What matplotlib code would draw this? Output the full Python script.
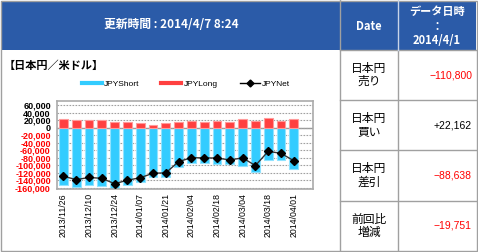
import matplotlib
matplotlib.use("Agg")
import matplotlib.pyplot as plt
from matplotlib.patches import Rectangle
from matplotlib.lines import Line2D
from matplotlib.ticker import FuncFormatter, MultipleLocator

plt.rcParams['font.family'] = ['Noto Sans CJK JP', 'DejaVu Sans']

dates = ["2013/11/26", "2013/12/03", "2013/12/10", "2013/12/17", "2013/12/24",
         "2013/12/31", "2014/01/07", "2014/01/14", "2014/01/21", "2014/01/28",
         "2014/02/04", "2014/02/11", "2014/02/18", "2014/02/25", "2014/03/04",
         "2014/03/11", "2014/03/18", "2014/03/25", "2014/04/01"]
jpy_long = [23200, 20500, 18700, 20500, 14100, 14100, 10700, 8000, 10700, 16000,
            17300, 13900, 17300, 13900, 22700, 17300, 24500, 17600, 22162]
jpy_short = [-152800, -159200, -152800, -156500, -164100, -152800, -145900, -132500,
             -132500, -105900, -95500, -95500, -98100, -98100, -102700, -117900,
             -86700, -86500, -110800]
jpy_net = [-129900, -139000, -133300, -135500, -150000, -140500, -134000, -122000,
           -121000, -91000, -80500, -81000, -81500, -86500, -81000, -101500,
           -63500, -68887, -88638]

header_text = "更新時間 : 2014/4/7 8:24"
pair_title = "【日本円／米ドル】"
row_labels = ["日本円\n売り", "日本円\n買い", "日本円\n差引", "前回比\n増減"]
row_values = ["\u2212110,800", "+22,162", "\u221288,638", "\u221219,751"]
row_colors = ["#ff0000", "#000000", "#ff0000", "#ff0000"]

W, H = 478, 252
BLUE = "#2b5ba8"
GRID = "#a0a0a0"


def fx(x):
    return x / W


def fy(y):
    return 1 - y / H


fig = plt.figure(figsize=(W / 100, H / 100), dpi=100)
fig.patch.set_facecolor("white")

# header bars
fig.add_artist(Rectangle((fx(1), fy(50)), fx(339), 49 / H, transform=fig.transFigure,
                         facecolor=BLUE, edgecolor="none"))
fig.add_artist(Rectangle((fx(340), fy(50)), fx(136), 49 / H, transform=fig.transFigure,
                         facecolor=BLUE, edgecolor="none"))
fig.text(fx(171), fy(25), header_text, color="white", fontsize=8.5, fontweight="bold",
         ha="center", va="center")
fig.text(fx(4), fy(65), pair_title, fontsize=8, fontweight="bold", ha="left", va="center")

# table
fig.text(fx(369), fy(26), "Date", color="white", fontsize=8, fontweight="bold",
         ha="center", va="center")
fig.text(fx(437), fy(26), "データ日時\n：\n2014/4/1", color="white", fontsize=8,
         fontweight="bold", ha="center", va="center", linespacing=1.2)
row_tops = [50, 100, 150, 201, 251]
for i in range(4):
    yc = (row_tops[i] + row_tops[i + 1]) / 2
    fig.text(fx(369), fy(yc), row_labels[i], fontsize=8.5, ha="center", va="center",
             linespacing=1.05)
    fig.text(fx(472), fy(yc), row_values[i], fontsize=7.5, color=row_colors[i],
             ha="right", va="center", family="Liberation Sans")
for y in row_tops[:-1]:
    fig.add_artist(Line2D([fx(340), fx(476)], [fy(y), fy(y)], color="#a0a0a0", lw=1,
                          transform=fig.transFigure))
fig.add_artist(Line2D([fx(398), fx(398)], [fy(50), fy(251)], color="#a0a0a0", lw=1,
                      transform=fig.transFigure))
fig.add_artist(Line2D([fx(398), fx(398)], [fy(0), fy(50)], color="#c8d4e8", lw=1,
                      transform=fig.transFigure))
fig.add_artist(Line2D([fx(340), fx(340)], [fy(0), fy(251)], color="#a0a0a0", lw=1,
                      transform=fig.transFigure))
fig.add_artist(Rectangle((fx(0.5), fy(251)), fx(476), 250.5 / H, transform=fig.transFigure,
                         facecolor="none", edgecolor="#a0a0a0", lw=1))

# chart
ax = fig.add_axes([fx(57), fy(189), fx(256), 88 / H])
x = list(range(len(dates)))
ax.bar(x, jpy_short, width=0.7, color="#33ccff", edgecolor="#8fe3ff", lw=0.8, zorder=2)
ax.bar(x, jpy_long, width=0.7, color="#ff4040", edgecolor="#ff9a9a", lw=0.8, zorder=2)
ax.plot(x, jpy_net, color="#333333", lw=1, marker="D", markersize=3.8,
        markerfacecolor="black", markeredgecolor="black", zorder=3)
ax.axhline(0, color="#999999", lw=1, zorder=1)
ax.set_xlim(-0.5, 19.5)
ax.set_ylim(-164000, 70700)
ax.yaxis.set_major_locator(MultipleLocator(20000))
ax.yaxis.set_major_formatter(FuncFormatter(lambda v, p: f"{v:,.0f}"))
ax.grid(axis="y", color=GRID, linestyle=(0, (1.5, 1.2)), lw=0.8, zorder=0)
ax.set_xticks(x[::2])
ax.set_xticklabels(dates[::2], rotation=90, fontsize=6.3, family="Liberation Sans")
ax.tick_params(length=0, pad=3)
ax.tick_params(axis="y", labelsize=6.5, pad=4.5)
for lbl in ax.get_yticklabels():
    lbl.set_family("Liberation Sans")
    lbl.set_fontweight("bold")
    if lbl.get_text().startswith("-") or lbl.get_text().startswith("\u2212"):
        lbl.set_color("#ff0000")
for s in ax.spines.values():
    s.set_color("#aaaaaa")
    s.set_linewidth(1.2)

handles = [Line2D([], [], color="#33ccff", lw=3),
           Line2D([], [], color="#ff4040", lw=3),
           Line2D([], [], color="black", lw=1, marker="D", markersize=3.5)]
fig.legend(handles, ["JPYShort", "JPYLong", "JPYNet"], ncol=3, frameon=False,
           loc="center", bbox_to_anchor=(fx(186), fy(84)),
           handlelength=2.4, columnspacing=2.6, handletextpad=0.3,
           prop={"family": "Liberation Sans", "size": 6})

fig.savefig("out.png", dpi=100)
